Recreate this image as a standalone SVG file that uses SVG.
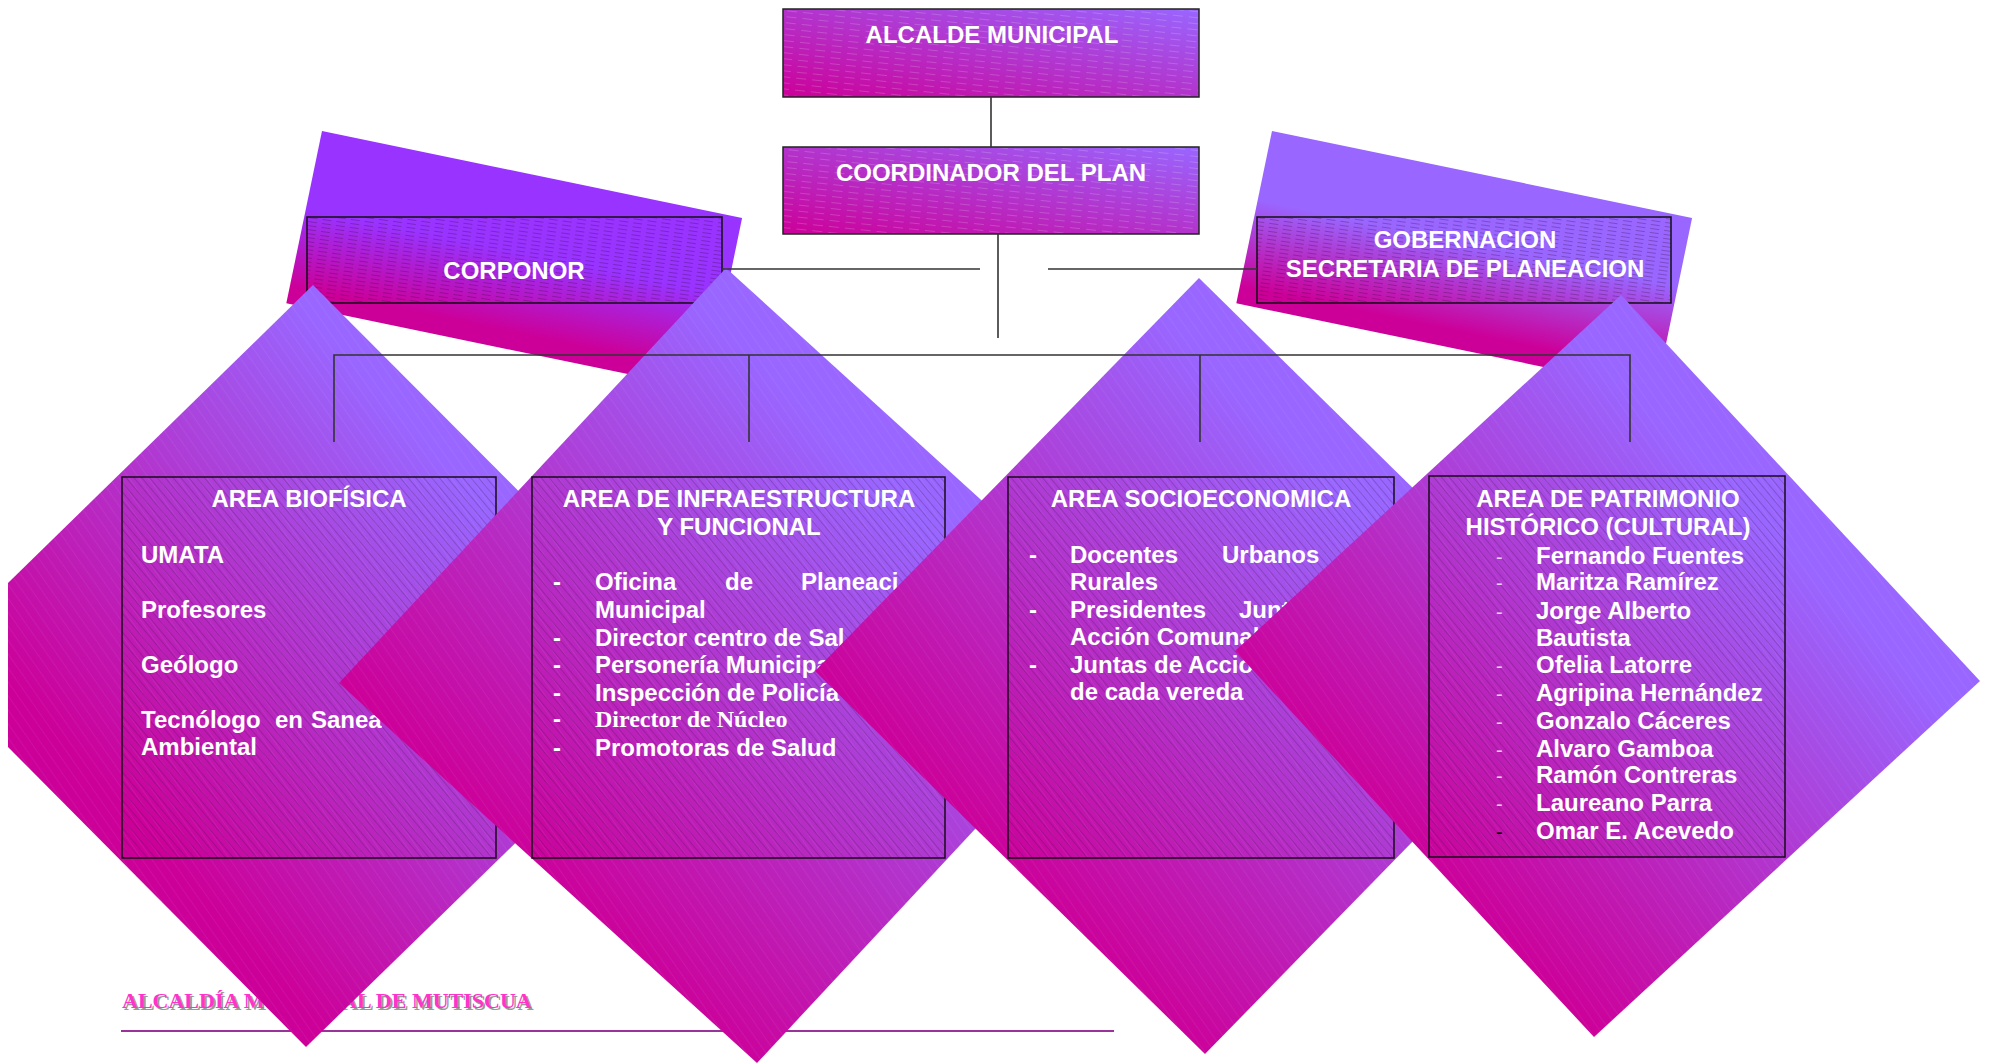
<svg xmlns="http://www.w3.org/2000/svg" width="1989" height="1064" viewBox="0 0 1989 1064">
<defs>
  <linearGradient id="gDiamond" x1="1" y1="0" x2="0" y2="1">
    <stop offset="0" stop-color="#9966FF"/>
    <stop offset="0.3" stop-color="#9966FF"/>
    <stop offset="0.76" stop-color="#CC0099"/>
    <stop offset="1" stop-color="#CC0099"/>
  </linearGradient>
  <linearGradient id="gTop" x1="0" y1="1" x2="1" y2="0">
    <stop offset="0" stop-color="#CC0099"/>
    <stop offset="1" stop-color="#9966FF"/>
  </linearGradient>
  <linearGradient id="gCorp" x1="0" y1="0" x2="0" y2="1">
    <stop offset="0" stop-color="#9933FF"/>
    <stop offset="0.45" stop-color="#9933FF"/>
    <stop offset="0.9" stop-color="#CC0099"/>
    <stop offset="1" stop-color="#CC0099"/>
  </linearGradient>
  <linearGradient id="gGob" x1="0" y1="0" x2="0" y2="1">
    <stop offset="0" stop-color="#9966FF"/>
    <stop offset="0.4" stop-color="#9966FF"/>
    <stop offset="0.9" stop-color="#CC0099"/>
    <stop offset="1" stop-color="#CC0099"/>
  </linearGradient>
  <pattern id="pHatch" width="6" height="6" patternUnits="userSpaceOnUse" patternTransform="rotate(50)">
    <line x1="0" y1="0.5" x2="6" y2="0.5" stroke="#3a1040" stroke-opacity="0.35" stroke-width="0.7"/>
  </pattern>
  <pattern id="pFaint" width="8" height="8" patternUnits="userSpaceOnUse" patternTransform="rotate(55)">
    <line x1="0" y1="0.5" x2="8" y2="0.5" stroke="#FFFFFF" stroke-opacity="0.07" stroke-width="0.8"/>
  </pattern>
  <pattern id="pDash" width="14" height="4" patternUnits="userSpaceOnUse" patternTransform="rotate(8)">
    <line x1="0" y1="0.5" x2="9" y2="0.5" stroke="#300030" stroke-opacity="0.35" stroke-width="0.8"/>
  </pattern>
  <pattern id="pWave" width="16" height="6" patternUnits="userSpaceOnUse" patternTransform="rotate(6)">
    <line x1="0" y1="0.5" x2="10" y2="0.5" stroke="#FFFFFF" stroke-opacity="0.22" stroke-width="0.8"/>
  </pattern>
</defs>
<style>
  .t { font-family: "Liberation Sans", Arial, sans-serif; font-weight: bold; font-size: 24px; fill: #FFFFFF; }
  .c { text-anchor: middle; }
  .ser { font-family: "Liberation Serif", "Times New Roman", serif; font-weight: bold; font-size: 24px; fill: #FFFFFF; }
  .dsh { font-family: "Liberation Sans", Arial, sans-serif; font-size: 20px; fill: #FFFFFF; fill-opacity: 0.75; }
  .box { fill: url(#pHatch); stroke: #1a0a1a; stroke-width: 1.5; }
  .tbox { fill: url(#gTop); stroke: #222222; stroke-width: 1.5; }
  .tboxp { fill: url(#pWave); stroke: none; }
  .dia { fill: url(#gDiamond); }
  .diap { fill: url(#pFaint); }
  .ln { stroke: #333333; stroke-width: 1.6; fill: none; }
  .foot { font-family: "Liberation Serif", "Times New Roman", serif; font-weight: bold; font-size: 22px; }
</style>

<g id="footer">
  <line x1="121" y1="1031" x2="1114" y2="1031" stroke="#993399" stroke-width="2"/>
  <text class="foot" x="124" y="1010" fill="#999999">ALCALDÍA MUNICIPAL  DE MUTISCUA</text>
  <text class="foot" x="122" y="1008" fill="#FF33CC">ALCALDÍA MUNICIPAL  DE MUTISCUA</text>
</g>

<g id="corponor">
  <rect x="0" y="0" width="429" height="176" fill="url(#gCorp)" transform="translate(322,131) rotate(11.7)"/>
  <rect x="307" y="217" width="415" height="86" fill="url(#pDash)" stroke="#111111" stroke-width="1.5"/>
  <text class="t c" x="514" y="279">CORPONOR</text>
</g>

<g id="gobernacion">
  <rect x="0" y="0" width="429" height="176" fill="url(#gGob)" transform="translate(1272,131) rotate(11.7)"/>
  <rect x="1257" y="217" width="414" height="86" fill="url(#pDash)" stroke="#111111" stroke-width="1.5"/>
  <text class="t c" x="1465" y="248">GOBERNACION</text>
  <text class="t c" x="1465" y="277">SECRETARIA DE PLANEACION</text>
</g>

<g id="alcalde">
  <rect class="tbox" x="783" y="9" width="416" height="88"/>
  <rect class="tboxp" x="784" y="10" width="414" height="86"/>
  <text class="t c" x="992" y="43">ALCALDE MUNICIPAL</text>
</g>

<g id="coordinador">
  <rect class="tbox" x="783" y="147" width="416" height="87"/>
  <rect class="tboxp" x="784" y="148" width="414" height="85"/>
  <text class="t c" x="991" y="181">COORDINADOR DEL PLAN</text>
</g>

<g id="area-biofisica">
  <polygon class="dia" points="313,285 695,668 306,1047 8,747 8,583"/>
  <polygon class="diap" points="313,285 695,668 306,1047 8,747 8,583"/>
  <rect class="box" x="122" y="477" width="374" height="381"/>
  <text class="t c" x="309" y="507">AREA BIOFÍSICA</text>
  <text class="t" x="141" y="563">UMATA</text>
  <text class="t" x="141" y="618">Profesores</text>
  <text class="t" x="141" y="673">Geólogo</text>
  <text class="t" y="728"><tspan x="141">Tecnólogo</tspan><tspan x="275">en</tspan><tspan x="311">Sanea</tspan></text>
  <text class="t" x="141" y="755">Ambiental</text>
</g>

<g id="area-infraestructura">
  <polygon class="dia" points="726,268 1144,648 757,1063 339,683"/>
  <polygon class="diap" points="726,268 1144,648 757,1063 339,683"/>
  <rect class="box" x="532" y="477" width="413" height="381"/>
  <text class="t c" x="739" y="507">AREA DE INFRAESTRUCTURA</text>
  <text class="t c" x="739" y="535">Y FUNCIONAL</text>
  <text class="t" x="553" y="590">-</text>
  <text class="t" y="590"><tspan x="595">Oficina</tspan><tspan x="725">de</tspan><tspan x="801">Planeaci</tspan></text>
  <text class="t" x="595" y="618">Municipal</text>
  <text class="t" x="553" y="646">-</text>
  <text class="t" x="595" y="646">Director centro de Sal</text>
  <text class="t" x="553" y="673">-</text>
  <text class="t" x="595" y="673">Personería Municipa</text>
  <text class="t" x="553" y="701">-</text>
  <text class="t" x="595" y="701">Inspección de Policía</text>
  <text class="t" x="553" y="727">-</text>
  <text class="ser" x="595" y="727">Director de Núcleo</text>
  <text class="t" x="553" y="756">-</text>
  <text class="t" x="595" y="756">Promotoras de Salud</text>
</g>

<g id="area-socioeconomica">
  <polygon class="dia" points="1199,278 1589,661 1205,1054 815,671"/>
  <polygon class="diap" points="1199,278 1589,661 1205,1054 815,671"/>
  <rect class="box" x="1008" y="477" width="386" height="381"/>
  <text class="t c" x="1201" y="507">AREA SOCIOECONOMICA</text>
  <text class="t" x="1029" y="563">-</text>
  <text class="t" y="563"><tspan x="1070">Docentes</tspan><tspan x="1222">Urbanos</tspan></text>
  <text class="t" x="1070" y="590">Rurales</text>
  <text class="t" x="1029" y="618">-</text>
  <text class="t" y="618"><tspan x="1070">Presidentes</tspan><tspan x="1239">Junt</tspan></text>
  <text class="t" x="1070" y="645">Acción Comunal</text>
  <text class="t" x="1029" y="673">-</text>
  <text class="t" x="1070" y="673">Juntas de Accio</text>
  <text class="t" x="1070" y="700">de cada vereda</text>
</g>

<g id="area-patrimonio">
  <polygon class="dia" points="1621,295 1980,681 1594,1037 1235,651"/>
  <polygon class="diap" points="1621,295 1980,681 1594,1037 1235,651"/>
  <rect class="box" x="1429" y="476" width="356" height="381"/>
  <text class="t c" x="1608" y="507">AREA DE PATRIMONIO</text>
  <text class="t c" x="1608" y="535">HISTÓRICO (CULTURAL)</text>
  <text class="dsh" x="1496" y="564">-</text>
  <text class="t" x="1536" y="564">Fernando Fuentes</text>
  <text class="dsh" x="1496" y="590">-</text>
  <text class="t" x="1536" y="590">Maritza Ramírez</text>
  <text class="dsh" x="1496" y="619">-</text>
  <text class="t" x="1536" y="619">Jorge Alberto</text>
  <text class="t" x="1536" y="646">Bautista</text>
  <text class="dsh" x="1496" y="673">-</text>
  <text class="t" x="1536" y="673">Ofelia Latorre</text>
  <text class="dsh" x="1496" y="701">-</text>
  <text class="t" x="1536" y="701">Agripina Hernández</text>
  <text class="dsh" x="1496" y="729">-</text>
  <text class="t" x="1536" y="729">Gonzalo Cáceres</text>
  <text class="dsh" x="1496" y="757">-</text>
  <text class="t" x="1536" y="757">Alvaro Gamboa</text>
  <text class="dsh" x="1496" y="783">-</text>
  <text class="t" x="1536" y="783">Ramón Contreras</text>
  <text class="dsh" x="1496" y="811">-</text>
  <text class="t" x="1536" y="811">Laureano Parra</text>
  <text class="dsh" x="1496" y="839" style="fill:#000000;fill-opacity:1">-</text>
  <text class="t" x="1536" y="839">Omar E. Acevedo</text>
</g>

<g id="connectors">
  <line class="ln" x1="991" y1="97" x2="991" y2="147"/>
  <line class="ln" x1="998" y1="234" x2="998" y2="338"/>
  <line class="ln" x1="722" y1="269" x2="980" y2="269"/>
  <line class="ln" x1="1048" y1="269" x2="1257" y2="269"/>
  <polyline class="ln" points="334,442 334,355 1630,355 1630,442"/>
  <line class="ln" x1="749" y1="355" x2="749" y2="442"/>
  <line class="ln" x1="1200" y1="355" x2="1200" y2="442"/>
</g>
</svg>
